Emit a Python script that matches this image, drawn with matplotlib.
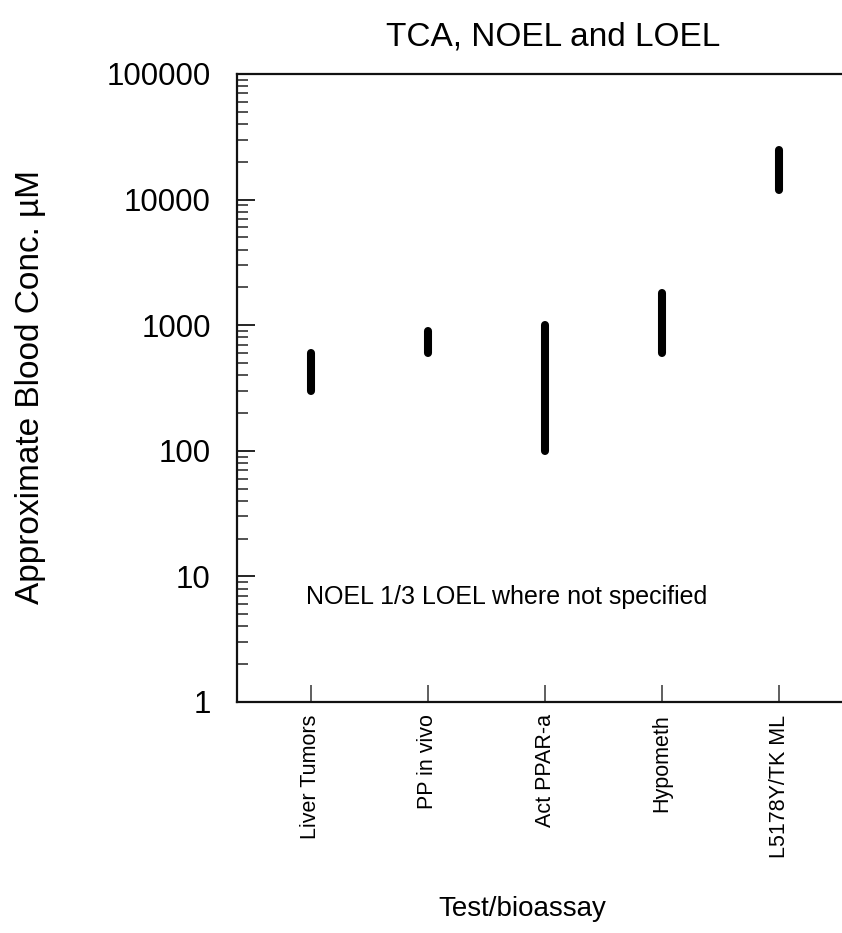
import numpy as np
import matplotlib
matplotlib.use("Agg")
import matplotlib.pyplot as plt
from matplotlib.ticker import LogLocator, NullFormatter, FixedLocator

plt.rcParams['font.family'] = ['Liberation Sans', 'DejaVu Sans']

# test/bioassay, NOEL (low end) and LOEL (high end) in uM
tests = ['Liver Tumors', 'PP in vivo', 'Act PPAR-a', 'Hypometh', 'L5178Y/TK ML']
noel = [300, 600, 100, 600, 12000]
loel = [600, 900, 1000, 1800, 25000]

fig = plt.figure(figsize=(8.42, 9.33), dpi=100)
ax = fig.add_axes([0.2815, 0.2476, 0.7316, 0.6731])

x = np.arange(len(tests))
ax.vlines(x, noel, loel, colors='black', linewidth=5.8, capstyle='round')

ax.set_yscale('log')
ax.set_ylim(1, 100000)
ax.set_xlim(-0.63, 4.63)

ax.yaxis.set_major_locator(FixedLocator([1, 10, 100, 1000, 10000, 100000]))
ax.set_yticklabels(['1', '10', '100', '1000', '10000', '100000'])
ax.yaxis.set_minor_locator(LogLocator(base=10, subs=np.arange(2, 10)))
ax.yaxis.set_minor_formatter(NullFormatter())
ax.tick_params(axis='y', which='major', direction='in', length=13, width=1.2,
               labelsize=22.5, pad=19, colors='black')
ax.tick_params(axis='y', which='minor', direction='in', length=8, width=1.2,
               color='#333333')

ax.set_xticks(x)
ax.set_xticklabels(tests, rotation=90, fontsize=15.5)
ax.tick_params(axis='x', direction='in', length=12, width=1.2, color='#444444', pad=9)

ax.spines['right'].set_visible(False)
for s in ['left', 'top', 'bottom']:
    ax.spines[s].set_linewidth(1.6)
    ax.spines[s].set_color('#111111')

ax.text(-0.04, 6.85, 'NOEL 1/3 LOEL where not specified', fontsize=18,
        va='center', ha='left')

fig.text(0.657, 0.96, 'TCA, NOEL and LOEL', fontsize=24, ha='center', va='center')
fig.text(0.62, 0.026, 'Test/bioassay', fontsize=20, ha='center', va='center')
fig.text(0.036, 0.585, 'Approximate Blood Conc. µM', fontsize=24, rotation=90,
         ha='center', va='center')

fig.savefig('out.png', dpi=100)
